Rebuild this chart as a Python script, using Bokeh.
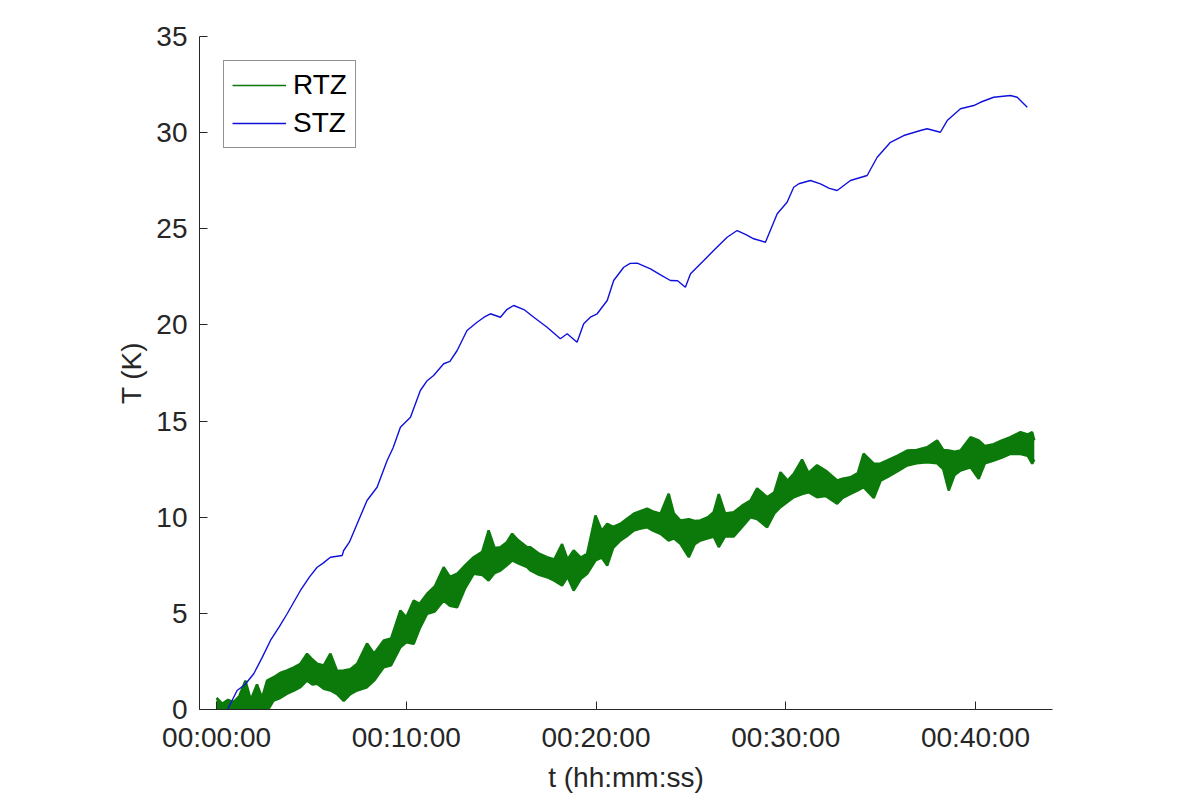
from bokeh.plotting import figure
from bokeh.models import Range1d, FixedTicker, Legend, LegendItem, ColumnDataSource
from bokeh.embed import file_html
from bokeh.resources import INLINE

# ---- data (time in minutes, temperature rise in K) ----
stz_t = [0.55, 0.64, 1.08, 1.5, 1.96, 2.4, 2.84, 3.3, 3.72, 4.42, 4.9, 5.30, 5.6, 6.0, 6.62, 6.70,
         7.0, 7.41, 7.93, 8.46, 8.99, 9.3, 9.69, 10.22, 10.74, 11.1, 11.44, 11.97, 12.3, 12.68,
         13.2, 13.73, 14.1, 14.43, 14.96, 15.3, 15.66, 16.2, 16.72, 17.42, 18.12, 18.48, 19.0,
         19.35, 19.7, 20.06, 20.59, 20.93, 21.46, 21.8, 22.17, 22.87, 23.4, 23.92, 24.3, 24.71,
         24.98, 25.68, 26.2, 26.91, 27.44, 27.9, 28.31, 28.93, 29.55, 30.07, 30.42, 30.69, 31.3,
         31.83, 32.3, 32.71, 33.41, 34.29, 34.82, 35.52, 36.22, 37.1, 37.45, 38.15, 38.51, 39.21,
         39.91, 40.26, 40.96, 41.84, 42.2, 42.73]
stz_T = [-0.1, 0.12, 0.99, 1.3, 1.86, 2.7, 3.59, 4.3, 4.98, 6.19, 6.9, 7.40, 7.6, 7.92, 8.01, 8.27,
         8.7, 9.66, 10.87, 11.56, 12.95, 13.6, 14.68, 15.20, 16.59, 17.1, 17.37, 17.98, 18.1, 18.67,
         19.71, 20.14, 20.4, 20.58, 20.40, 20.8, 21.01, 20.8, 20.40, 19.88, 19.28, 19.54, 19.10,
         20.06, 20.4, 20.58, 21.27, 22.31, 23.0, 23.2, 23.21, 22.92, 22.6, 22.31, 22.3, 21.96,
         22.66, 23.35, 23.87, 24.56, 24.91, 24.7, 24.48, 24.30, 25.78, 26.38, 27.16, 27.34, 27.51,
         27.34, 27.1, 26.99, 27.51, 27.77, 28.72, 29.5, 29.85, 30.11, 30.20, 30.02, 30.63, 31.24,
         31.41, 31.58, 31.84, 31.93, 31.84, 31.32]

rtz_t = [0.0, 0.3, 0.6, 0.9, 1.2, 1.52, 1.8, 2.13, 2.4, 2.66, 3.01, 3.35, 3.72, 4.1, 4.42, 4.77,
         5.05, 5.30, 5.65, 6.0, 6.35, 6.70, 7.05, 7.41, 7.93, 8.3, 8.81, 9.2, 9.69, 10.0, 10.39,
         10.7, 11.1, 11.5, 11.97, 12.3, 12.68, 13.1, 13.55, 14.0, 14.34, 14.65, 14.96, 15.3, 15.58,
         15.9, 16.37, 16.54, 17.0, 17.42, 17.8, 18.21, 18.5, 18.82, 19.2, 19.53, 19.97, 20.3,
         20.59, 20.9, 21.29, 21.6, 21.99, 22.3, 22.69, 23.0, 23.4, 23.83, 24.1, 24.45, 24.89,
         25.2, 25.5, 25.9, 26.2, 26.47, 26.8, 27.26, 27.7, 28.14, 28.49, 29.02, 29.4, 29.72, 30.1,
         30.42, 30.86, 31.2, 31.65, 32.1, 32.71, 33.0, 33.41, 33.8, 34.1, 34.64, 35.0, 35.35,
         35.9, 36.4, 36.9, 37.45, 37.98, 38.3, 38.59, 38.9, 39.21, 39.74, 40.17, 40.5, 40.96,
         41.4, 41.84, 42.37, 42.75, 42.99, 43.1]
rtz_hi = [0.6, 0.3, 0.5, 0.38, 0.7, 1.5, 0.5, 1.3, 0.6, 1.5, 1.68, 1.9, 2.03, 2.2, 2.38, 2.9,
          2.6, 2.38, 2.29, 2.9, 2.0, 2.03, 2.1, 2.38, 3.43, 2.9, 3.59, 3.7, 5.15, 4.8, 5.67,
          5.5, 6.02, 6.4, 7.4, 6.9, 7.06, 7.5, 7.92, 8.2, 9.31, 8.4, 8.44, 8.7, 9.14,
          8.8, 8.44, 8.44, 8.1, 7.92, 7.8, 8.6, 7.8, 8.27, 7.9, 8.1, 10.09, 9.3,
          9.66, 9.5, 9.66, 9.9, 10.18, 10.3, 10.44, 10.3, 10.18, 11.22, 10.2, 9.83, 9.9,
          9.8, 9.83, 10.0, 10.26, 11.2, 10.2, 10.26, 10.6, 10.87, 11.5, 11.04, 11.3, 12.34, 11.9,
          12.26, 13.0, 12.3, 12.7, 12.43, 11.91, 12.0, 12.08, 12.3, 13.3, 12.78, 12.8, 12.95,
          13.2, 13.47, 13.5, 13.64, 13.99, 13.5, 13.47, 13.4, 13.47, 14.16, 13.99, 13.7, 13.8,
          14.0, 14.16, 14.42, 14.3, 14.42, 14.0]
rtz_lo = [-0.3, -0.3, -0.3, -0.3, -0.3, -0.3, -0.3, -0.3, -0.3, -0.1, 0.47, 0.6, 0.82, 1.0, 1.16, 1.51,
          1.3, 1.34, 1.08, 0.99, 0.8, 0.45, 0.8, 0.99, 1.16, 1.5, 2.2, 2.3, 3.24, 3.5, 3.42,
          4.2, 4.98, 5.1, 5.67, 5.4, 5.32, 6.3, 7.06, 7.0, 6.71, 7.1, 7.23, 7.5, 7.75,
          7.6, 7.4, 7.23, 7.0, 6.88, 6.7, 6.45, 6.9, 6.19, 6.8, 7.06, 7.75, 7.9,
          7.49, 8.4, 8.79, 9.0, 9.31, 9.4, 9.48, 9.3, 9.14, 8.79, 8.9, 8.62, 7.92,
          8.6, 8.79, 8.9, 9.0, 8.45, 9.0, 9.0, 9.5, 10.0, 9.9, 9.48, 10.2, 10.52, 10.8,
          11.04, 11.2, 11.3, 11.04, 11.1, 10.7, 11.0, 11.21, 11.4, 11.56, 11.0, 11.9, 12.08,
          12.4, 12.69, 12.8, 12.86, 12.8, 12.5, 11.39, 12.2, 12.43, 12.6, 12.0, 12.8, 12.95,
          13.1, 13.29, 13.29, 13.2, 12.78, 13.0]

x_ticks = [0, 10, 20, 30, 40]
x_tick_labels = ["00:00:00", "00:10:00", "00:20:00", "00:30:00", "00:40:00"]
y_ticks = [0, 5, 10, 15, 20, 25, 30, 35]

GREEN = "#0b7a0b"
BLUE = "#1010dd"
AX = "#262626"
FONT = "Liberation Sans"
FS = "28px"

p = figure(width=1184, height=784, frame_width=853, frame_height=673,
           x_range=Range1d(-0.9, 44.06), y_range=Range1d(0, 35),
           output_backend="svg", toolbar_location=None)
p.min_border_left = 199
p.min_border_top = 36
p.min_border_right = 132
p.min_border_bottom = 75
p.outline_line_color = None
p.xgrid.visible = False
p.ygrid.visible = False
p.background_fill_color = "white"
p.border_fill_color = "white"

src_r = ColumnDataSource(dict(t=rtz_t, hi=rtz_hi, lo=rtz_lo))
src_s = ColumnDataSource(dict(t=stz_t, T=stz_T))

p.varea(x="t", y1="lo", y2="hi", source=src_r, fill_color=GREEN, fill_alpha=1.0)
p.line(x="t", y="hi", source=src_r, line_color=GREEN, line_width=2.5)
p.line(x="t", y="lo", source=src_r, line_color=GREEN, line_width=2.5)
r_s = p.line(x="t", y="T", source=src_s, line_color=BLUE, line_width=1.4)

# legend-only renderers, placed outside the visible ranges
leg_r = p.line(x=[-20, -19], y=[-20, -20], line_color=GREEN, line_width=1.3)
leg_s = p.line(x=[-20, -19], y=[-20, -20], line_color=BLUE, line_width=1.3)

for ax in (p.xaxis[0], p.yaxis[0]):
    ax.axis_line_color = AX
    ax.major_tick_line_color = AX
    ax.minor_tick_line_color = None
    ax.major_tick_in = 8
    ax.major_tick_out = 0
    ax.major_label_text_font = FONT
    ax.major_label_text_font_size = FS
    ax.major_label_text_color = AX
    ax.axis_label_text_font = FONT
    ax.axis_label_text_font_size = FS
    ax.axis_label_text_font_style = "normal"
    ax.axis_label_text_color = AX

p.xaxis.ticker = FixedTicker(ticks=x_ticks)
p.xaxis.major_label_overrides = {t: l for t, l in zip(x_ticks, x_tick_labels)}
p.xaxis.axis_label = "t (hh:mm:ss)"
p.xaxis.major_label_standoff = 12
p.xaxis.axis_label_standoff = 6

p.yaxis.ticker = FixedTicker(ticks=y_ticks)
p.yaxis.axis_label = "T (K)"
p.yaxis.major_label_standoff = 12
p.yaxis.axis_label_standoff = 6

legend = Legend(items=[LegendItem(label="RTZ", renderers=[leg_r]),
                       LegendItem(label="STZ", renderers=[leg_s])],
                location="top_left")
legend.margin = 24
legend.padding = 8
legend.spacing = 6
legend.glyph_width = 54
legend.glyph_height = 30
legend.label_height = 30
legend.label_standoff = 7
legend.label_text_font = FONT
legend.label_text_font_size = FS
legend.label_text_color = "black"
legend.border_line_color = AX
legend.border_line_width = 1
legend.background_fill_alpha = 1.0
p.add_layout(legend)

open("out.html", "w").write(file_html(p, INLINE))
